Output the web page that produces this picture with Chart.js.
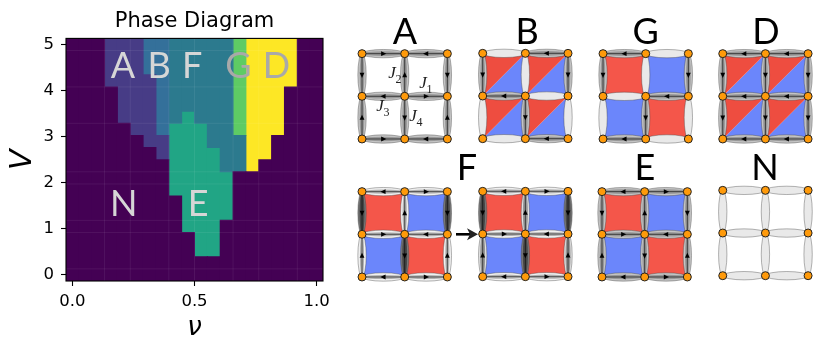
<!DOCTYPE html>
<html><head><meta charset="utf-8">
<script src="https://cdn.jsdelivr.net/npm/chart.js@4"></script>
<style>
html,body{margin:0;padding:0;background:#fff;}
body{width:831px;height:340px;position:relative;overflow:hidden;}
canvas{position:absolute;top:0;}
#phase{left:0;} #lattice{left:340px;}
</style></head><body>
<canvas id="phase" width="340" height="340"></canvas>
<canvas id="lattice" width="491" height="340"></canvas>
<script>
/* ---------- data: phase diagram ---------- */
const gridCount = 20;
const nuMax = 1;
const vMax = 5;
// top row (largest V) first; each char is the phase at one nu column
const phaseRows = [
 "NNNAAABBFFFFFGDDDDNN",
 "NNNAAABBFFFFFGDDDDNN",
 "NNNAAABBFFFFFGDDDDNN",
 "NNNAAAABFFFFFGDDDDNN",
 "NNNNAAABFFFFFGDDDNNN",
 "NNNNAAABFFFFFGDDDNNN",
 "NNNNAAABFEFFFGDDDNNN",
 "NNNNNAABEEEFFGDDDNNN",
 "NNNNNNAAEEEFFFDDNNNN",
 "NNNNNNNAEEEEFFDDNNNN",
 "NNNNNNNNEEEEFFDNNNNN",
 "NNNNNNNNEEEEENNNNNNN",
 "NNNNNNNNEEEEENNNNNNN",
 "NNNNNNNNNEEEENNNNNNN",
 "NNNNNNNNNEEEENNNNNNN",
 "NNNNNNNNNEEENNNNNNNN",
 "NNNNNNNNNNEENNNNNNNN",
 "NNNNNNNNNNEENNNNNNNN",
 "NNNNNNNNNNNNNNNNNNNN",
 "NNNNNNNNNNNNNNNNNNNN"
];
const phaseOrder = ["N","A","B","F","E","G","D"];
const phaseColors = {N:"#440154",A:"#473c86",B:"#34709a",F:"#2c7a8e",E:"#21a585",G:"#5ecb64",D:"#fde725"};
const xTicks = [0,0.5,1];
const yTicks = [0,1,2,3,4,5];
const seamCols = [3,5,8,10,13,15,18];
const seamRows = [1,4,5,8,9,13,16,19];
const phaseLabels = ["A","B","F","G","D","N","E"];
const phaseLabelNu = [0.207,0.355,0.49,0.68,0.836,0.21,0.515];
const phaseLabelV = [4.283,4.283,4.283,4.283,4.283,1.283,1.283];

/* ---------- data: lattice panels ---------- */
const panelNames = ["A","B","G","D","F1","F2","E","N"];
const panelX = [0.516,3.344,6.164,8.97,0.516,3.344,6.14,8.97];
const panelY = [4.711,4.718,4.711,4.711,1.477,1.484,1.477,1.507];
// bond directions: r l u d, 0 = no current. Rows run top to bottom
const hBonds = [
 ["rl","lr","rl"],["0l","l0","0l"],["l0","0l","l0"],["ll","ll","ll"],
 ["lr","rl","lr"],["lr","rl","lr"],["lr","rl","lr"],["00","00","00"]];
const vBonds = [
 ["dud","udu"],["d0d","0d0"],["d0d","0d0"],["ddd","ddd"],
 ["dud","udu"],["dud","udu"],["dud","udu"],["000","000"]];
// bond weights: m medium, w weak, n light-medium, s strong
const hWeights = [
 ["mm","mm","mm"],["mm","mm","mm"],["mm","mm","mm"],["mm","mm","mm"],
 ["ww","ww","ww"],["ww","ww","ww"],["mm","mm","mm"],["mm","mm","mm"]];
const vWeights = [
 ["mmm","mmm"],["mmm","mmm"],["mmm","mmm"],["mmm","mmm"],
 ["sws","wsw"],["sns","nsn"],["mmm","mmm"],["mmm","mmm"]];
// plaquettes, top-left, top-right, bottom-left, bottom-right. R red, B blue, T split, . empty
const plaquettes = [
 "....","TTTT","RBBR","TTTT","RBBR","RBBR","RBBR","...."];
const panelLetters = ["A","B","G","D","F","E","N"];
const letterX = [1.523,4.383,7.163,9.984,2.976,7.148,9.96];
const letterY = [6.937,6.937,6.937,6.937,3.75,3.75,3.75];
const couplingNames = ["1","2","3","4"];
const couplingX = [1.945,1.219,0.937,1.711];
const couplingY = [5.906,6.141,5.366,5.131];
const arrowFrom = [2.719,2.477];
const arrowTo = [3.234,2.477];

/* ---------- phase chart ---------- */
const nuStep = nuMax/(gridCount-1), vStep = vMax/(gridCount-1);
const nuValues = Array.from({length:gridCount},(_,i)=>i*nuStep);
const vValues = Array.from({length:gridCount},(_,j)=>j*vStep);
function phaseBars(letter){
  const out=[];
  for(let i=0;i<gridCount;i++){
    let start=null;
    for(let j=0;j<=gridCount;j++){
      const hit = j<gridCount && phaseRows[gridCount-1-j][i]===letter;
      if(hit && start===null) start=j;
      if(!hit && start!==null){
        out.push({x:nuValues[i],y:[vValues[start]-vStep/2,vValues[j-1]+vStep/2]});
        start=null;
      }
    }
  }
  return out;
}
const tickFont = {family:"'DejaVu Sans'",size:16.5};
const phaseDecor = {
  id:"phaseDecor",
  beforeDatasetsDraw(c){
    const g=c.ctx,a=c.chartArea;
    g.save();g.fillStyle=phaseColors.N;g.fillRect(a.left,a.top,a.width,a.height);g.restore();
  },
  afterDatasetsDraw(c){
    const g=c.ctx,a=c.chartArea,x=c.scales.x,y=c.scales.y;
    g.save();
    g.strokeStyle="rgba(255,255,255,0.07)";g.lineWidth=1;
    seamCols.forEach(e=>{const p=x.getPixelForValue((e-0.5)*nuStep);g.beginPath();g.moveTo(p,a.top);g.lineTo(p,a.bottom);g.stroke();});
    seamRows.forEach(e=>{const p=y.getPixelForValue((e-0.5)*vStep);g.beginPath();g.moveTo(a.left,p);g.lineTo(a.right,p);g.stroke();});
    g.font="36px Lato";g.textAlign="center";g.textBaseline="alphabetic";
    phaseLabels.forEach((t,k)=>{
      g.fillStyle=(t==="G"||t==="D")?"#a9a9a9":"#d6d6d6";
      g.fillText(t,x.getPixelForValue(phaseLabelNu[k]),y.getPixelForValue(phaseLabelV[k]));
    });
    g.strokeStyle="#000";g.lineWidth=1.1;
    g.strokeRect(a.left,a.top,a.width,a.height);
    g.restore();
  }
};
new Chart(document.getElementById("phase"),{
  type:"bar",
  data:{datasets:phaseOrder.map(p=>({label:p,data:phaseBars(p),backgroundColor:phaseColors[p],borderWidth:0,inflateAmount:0.5,grouped:false,barPercentage:1,categoryPercentage:1}))},
  plugins:[phaseDecor],
  options:{
    responsive:false,animation:false,
    layout:{padding:{top:0,right:17,left:0,bottom:0}},
    plugins:{
      legend:{display:false},tooltip:{enabled:false},
      title:{display:true,text:"Phase Diagram",fullSize:false,color:"#000",font:{family:"'DejaVu Sans'",size:21,weight:"normal"},padding:{top:8.5,bottom:4.7}}
    },
    scales:{
      x:{type:"linear",offset:false,min:-nuStep/2,max:nuMax+nuStep/2,
        afterFit(s){s.height=59;},
        afterBuildTicks(s){s.ticks=xTicks.map(v=>({value:v}));},
        grid:{offset:false,drawOnChartArea:false,drawTicks:true,tickLength:5,tickColor:"#000",tickWidth:1.1},
        border:{display:false},
        ticks:{color:"#000",font:tickFont,padding:6,maxRotation:0,callback:v=>v.toFixed(1)},
        title:{display:true,text:"ν",color:"#000",font:{family:"'DejaVu Sans'",size:26,style:"italic"},padding:{top:0,bottom:-4}}
      },
      y:{type:"linear",min:-vStep/2,max:vMax+vStep/2,
        afterFit(s){s.width=66;},
        afterBuildTicks(s){s.ticks=yTicks.map(v=>({value:v}));},
        grid:{drawOnChartArea:false,drawTicks:true,tickLength:5,tickColor:"#000",tickWidth:1.1},
        border:{display:false},
        ticks:{color:"#000",font:tickFont,padding:7,callback:v=>String(v)},
        title:{display:true,text:"V",color:"#000",font:{family:"'DejaVu Sans'",size:30,style:"italic"},padding:{top:5,bottom:0}}
      }
    }
  }
});

/* ---------- lattice chart ---------- */
const bondStyles = {
  m:{outer:"#c4c4c4",inner:"#989898",ratio:0.55,line:"#333"},
  w:{outer:"#f0f0f0",inner:"#b0b0b0",ratio:0.5,line:"#444"},
  n:{outer:"#e2e2e2",inner:"#969696",ratio:0.6,line:"#333"},
  s:{outer:"#787878",inner:"#484848",ratio:0.6,line:"#1a1a1a"},
  e:{outer:"#e9e9e9",inner:null,ratio:0,line:null}
};
const bondHalfWidth = 0.098;
const unitSpanX = 491/42.67, unitSpanY = 340/42.67;
const cellRed="#f4564a", cellBlue="#6b86fb", triRed="#ee4d40";
function polyDataset(pts,color){
  return {type:"scatter",showLine:true,data:pts.map(p=>({x:p[0],y:p[1]})),fill:"shape",backgroundColor:color,borderWidth:0,borderColor:"transparent",pointRadius:0,tension:0};
}
const cellSets=[];
plaquettes.forEach((code,pi)=>{
  const ox=panelX[pi],oy=panelY[pi];
  [...code].forEach((kind,k)=>{
    const cx=ox+(k%2), cy=oy+(k<2?1:0);
    const tl=[cx,cy+1],tr=[cx+1,cy+1],bl=[cx,cy],br=[cx+1,cy];
    if(kind==="R") cellSets.push(polyDataset([tl,tr,br,bl,tl],cellRed));
    if(kind==="B") cellSets.push(polyDataset([tl,tr,br,bl,tl],cellBlue));
    if(kind==="T"){
      cellSets.push(polyDataset([tl,tr,bl,tl],triRed));
      cellSets.push(polyDataset([tr,br,bl,tr],cellBlue));
    }
  });
});
const nodePoints=[];
panelNames.forEach((_,pi)=>{for(let r=0;r<3;r++)for(let c=0;c<3;c++)nodePoints.push({x:panelX[pi]+c,y:panelY[pi]+r});});

function drawBond(g,x1,y1,x2,y2,dir,weight,ry){
  const style = dir==="0"?bondStyles.e:bondStyles[weight];
  const mx=(x1+x2)/2,my=(y1+y2)/2,len=Math.hypot(x2-x1,y2-y1),ang=Math.atan2(y2-y1,x2-x1);
  g.save();g.translate(mx,my);g.rotate(ang);
  g.beginPath();g.ellipse(0,0,len/2,ry,0,0,Math.PI*2);
  g.fillStyle=style.outer;g.fill();g.strokeStyle="rgba(60,60,60,0.55)";g.lineWidth=0.7;g.stroke();
  if(style.inner){
    g.beginPath();g.ellipse(0,0,len/2,ry*style.ratio,0,0,Math.PI*2);g.fillStyle=style.inner;g.fill();
    g.beginPath();g.moveTo(-len/2,0);g.lineTo(len/2,0);g.strokeStyle=style.line;g.lineWidth=0.9;g.stroke();
    // along-the-bond sign: r and d point towards +screen, l and u towards -screen
    const s=(dir==="r"||dir==="d")?1:-1;
    g.beginPath();g.moveTo(s*3,0);g.lineTo(-s*2.2,-2.4);g.lineTo(-s*2.2,2.4);g.closePath();g.fillStyle="#000";g.fill();
  }
  g.restore();
}
const latticeDecor={
  id:"latticeDecor",
  beforeDatasetDraw(c,args){
    if(args.index!==0)return;
    const g=c.ctx,X=c.scales.x,Y=c.scales.y;
    const ry=Math.abs(Y.getPixelForValue(0)-Y.getPixelForValue(bondHalfWidth));
    panelNames.forEach((_,pi)=>{
      const ox=panelX[pi],oy=panelY[pi];
      for(let r=0;r<3;r++)for(let k=0;k<2;k++){
        const yy=Y.getPixelForValue(oy+2-r);
        drawBond(g,X.getPixelForValue(ox+k),yy,X.getPixelForValue(ox+k+1),yy,hBonds[pi][r][k],hWeights[pi][r][k],ry);
      }
      for(let r=0;r<2;r++)for(let k=0;k<3;k++){
        const xx=X.getPixelForValue(ox+k);
        drawBond(g,xx,Y.getPixelForValue(oy+2-r),xx,Y.getPixelForValue(oy+1-r),vBonds[pi][r][k],vWeights[pi][r][k],ry);
      }
    });
  },
  afterDatasetsDraw(c){
    const g=c.ctx,X=c.scales.x,Y=c.scales.y;
    g.save();
    g.fillStyle="#000";g.font="36px Lato";g.textAlign="center";g.textBaseline="alphabetic";
    panelLetters.forEach((t,k)=>g.fillText(t,X.getPixelForValue(letterX[k]),Y.getPixelForValue(letterY[k])));
    g.fillStyle="#222";
    couplingNames.forEach((t,k)=>{
      const px=X.getPixelForValue(couplingX[k]),py=Y.getPixelForValue(couplingY[k]);
      g.font="italic 17px 'Liberation Serif'";g.fillText("J",px,py);
      g.font="12px 'Liberation Serif'";g.fillText(t,px+6.5,py+5);
    });
    const x1=X.getPixelForValue(arrowFrom[0]),x2=X.getPixelForValue(arrowTo[0]),ay=Y.getPixelForValue(arrowFrom[1]);
    g.strokeStyle="#000";g.lineWidth=2.6;g.beginPath();g.moveTo(x1,ay);g.lineTo(x2-7,ay);g.stroke();
    g.beginPath();g.moveTo(x2,ay);g.lineTo(x2-11,ay-6);g.lineTo(x2-8,ay);g.lineTo(x2-11,ay+6);g.closePath();g.fill();
    g.restore();
  }
};
new Chart(document.getElementById("lattice"),{
  type:"scatter",
  data:{datasets:[
    {data:nodePoints,pointRadius:4,pointBorderWidth:1,pointBackgroundColor:"#ff9a0a",pointBorderColor:"#222",showLine:false},
    ...cellSets
  ]},
  plugins:[latticeDecor],
  options:{
    responsive:false,animation:false,
    layout:{padding:0,autoPadding:false},
    plugins:{legend:{display:false},tooltip:{enabled:false},title:{display:false}},
    scales:{
      x:{type:"linear",display:false,min:0,max:unitSpanX},
      y:{type:"linear",display:false,min:0,max:unitSpanY}
    }
  }
});
</script></body></html>
